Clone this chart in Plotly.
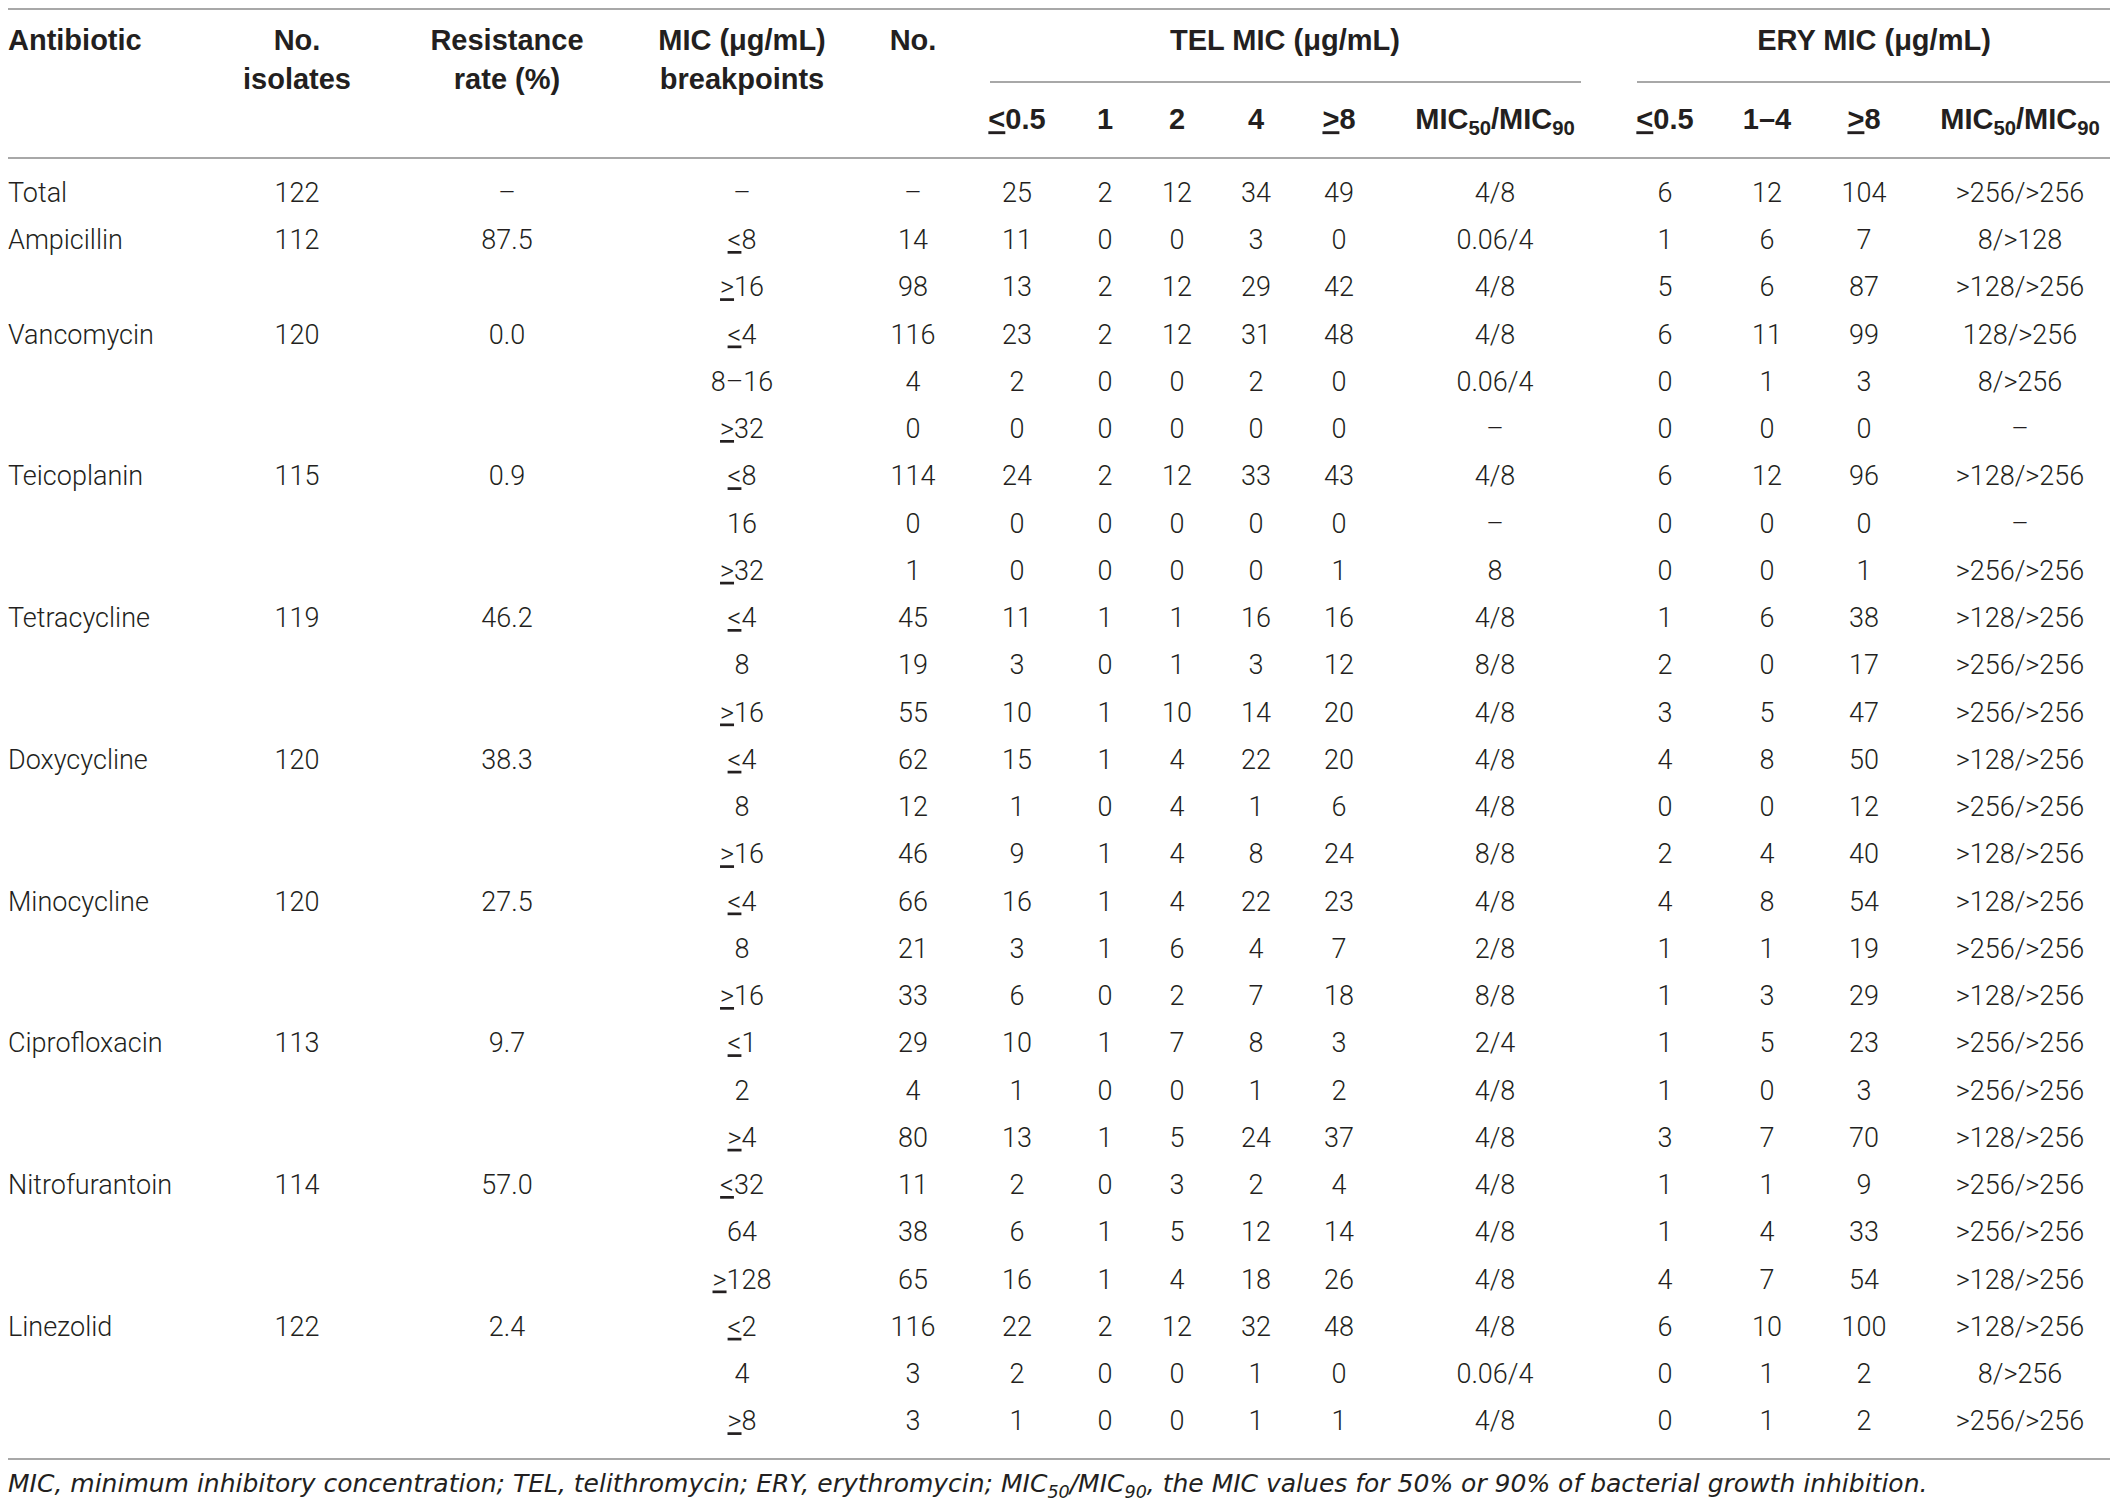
import plotly.graph_objects as go

# table rows (one entry per printed row)
antibiotic = ["Total", "Ampicillin", "", "Vancomycin", "", "", "Teicoplanin", "", "",
              "Tetracycline", "", "", "Doxycycline", "", "", "Minocycline", "", "",
              "Ciprofloxacin", "", "", "Nitrofurantoin", "", "", "Linezolid", "", ""]
isolates = ["122", "112", "", "120", "", "", "115", "", "", "119", "", "", "120", "", "",
            "120", "", "", "113", "", "", "114", "", "", "122", "", ""]
res_rate = ["–", "87.5", "", "0.0", "", "", "0.9", "", "", "46.2", "", "", "38.3", "", "",
            "27.5", "", "", "9.7", "", "", "57.0", "", "", "2.4", "", ""]
breakpoints = ["–", "≤8", "≥16", "≤4", "8–16", "≥32", "≤8", "16", "≥32", "≤4", "8", "≥16",
               "≤4", "8", "≥16", "≤4", "8", "≥16", "≤1", "2", "≥4", "≤32", "64", "≥128",
               "≤2", "4", "≥8"]
n_no = ["–", "14", "98", "116", "4", "0", "114", "0", "1", "45", "19", "55", "62", "12", "46",
        "66", "21", "33", "29", "4", "80", "11", "38", "65", "116", "3", "3"]
tel_le05 = [25, 11, 13, 23, 2, 0, 24, 0, 0, 11, 3, 10, 15, 1, 9, 16, 3, 6, 10, 1, 13, 2, 6, 16, 22, 2, 1]
tel_1 = [2, 0, 2, 2, 0, 0, 2, 0, 0, 1, 0, 1, 1, 0, 1, 1, 1, 0, 1, 0, 1, 0, 1, 1, 2, 0, 0]
tel_2 = [12, 0, 12, 12, 0, 0, 12, 0, 0, 1, 1, 10, 4, 4, 4, 4, 6, 2, 7, 0, 5, 3, 5, 4, 12, 0, 0]
tel_4 = [34, 3, 29, 31, 2, 0, 33, 0, 0, 16, 3, 14, 22, 1, 8, 22, 4, 7, 8, 1, 24, 2, 12, 18, 32, 1, 1]
tel_ge8 = [49, 0, 42, 48, 0, 0, 43, 0, 1, 16, 12, 20, 20, 6, 24, 23, 7, 18, 3, 2, 37, 4, 14, 26, 48, 0, 1]
tel_mic = ["4/8", "0.06/4", "4/8", "4/8", "0.06/4", "–", "4/8", "–", "8", "4/8", "8/8", "4/8",
           "4/8", "4/8", "8/8", "4/8", "2/8", "8/8", "2/4", "4/8", "4/8", "4/8", "4/8", "4/8",
           "4/8", "0.06/4", "4/8"]
ery_le05 = [6, 1, 5, 6, 0, 0, 6, 0, 0, 1, 2, 3, 4, 0, 2, 4, 1, 1, 1, 1, 3, 1, 1, 4, 6, 0, 0]
ery_1_4 = [12, 6, 6, 11, 1, 0, 12, 0, 0, 6, 0, 5, 8, 0, 4, 8, 1, 3, 5, 0, 7, 1, 4, 7, 10, 1, 1]
ery_ge8 = [104, 7, 87, 99, 3, 0, 96, 0, 1, 38, 17, 47, 50, 12, 40, 54, 19, 29, 23, 3, 70, 9, 33, 54, 100, 2, 2]
ery_mic = [">256/>256", "8/>128", ">128/>256", "128/>256", "8/>256", "–", ">128/>256", "–",
           ">256/>256", ">128/>256", ">256/>256", ">256/>256", ">128/>256", ">256/>256",
           ">128/>256", ">128/>256", ">256/>256", ">128/>256", ">256/>256", ">256/>256",
           ">128/>256", ">256/>256", ">256/>256", ">128/>256", ">128/>256", "8/>256", ">256/>256"]

sub_headers = ["≤0.5", "1", "2", "4", "≥8", "MIC<sub>50</sub>/MIC<sub>90</sub>",
               "≤0.5", "1–4", "≥8", "MIC<sub>50</sub>/MIC<sub>90</sub>"]
footnote = ("MIC, minimum inhibitory concentration; TEL, telithromycin; ERY, erythromycin; "
            "MIC<sub>50</sub>/MIC<sub>90</sub>, the MIC values for 50% or 90% of bacterial growth inhibition.")

W, H = 2118, 1508
PAD = 8  # page body margin around the plot div
ROW0, PITCH = 195, 47.25
INK = "#231f20"
RULE = "#a8a8a8"
LEFT = PAD


def py(p):
    # pixel row -> row units on the y axis
    return (p - ROW0) / PITCH


def fmt(s):
    s = str(s)
    return s.replace("≤", "<u>&lt;</u>").replace("≥", "<u>&gt;</u>")


col_x = [297, 507, 742, 913, 1017, 1105, 1177, 1256, 1339, 1495, 1665, 1767, 1864, 2020]
columns = [isolates, res_rate, breakpoints, n_no, tel_le05, tel_1, tel_2, tel_4, tel_ge8,
           tel_mic, ery_le05, ery_1_4, ery_ge8, ery_mic]
rows = list(range(len(antibiotic)))

body = dict(family="Roboto", size=27, color=INK, weight=300)
head = dict(family="Liberation Sans", size=29, color=INK, weight=700)

fig = go.Figure()

# body text
ay = [r for r, a in zip(rows, antibiotic) if a]
at = [a for a in antibiotic if a]
fig.add_trace(go.Scatter(x=[LEFT] * len(ay), y=ay, mode="text", text=at,
                         textposition="middle right", textfont=body, cliponaxis=False))
bx, by, bt = [], [], []
for cx, col in zip(col_x, columns):
    for r, v in zip(rows, col):
        if v == "":
            continue
        bx.append(cx)
        by.append(r)
        bt.append(fmt(v))
fig.add_trace(go.Scatter(x=bx, y=by, mode="text", text=bt, textposition="middle center",
                         textfont=body, cliponaxis=False))

# headers
fig.add_trace(go.Scatter(x=[LEFT], y=[py(43)], mode="text", text=["Antibiotic"],
                         textposition="middle right", textfont=head, cliponaxis=False))
hx = [297, 507, 742, 913, 1285, 1874, 297, 507, 742]
hy = [py(43)] * 6 + [py(82)] * 3
ht = ["No.", "Resistance", "MIC (μg/mL)", "No.", "TEL MIC (μg/mL)", "ERY MIC (μg/mL)",
      "isolates", "rate (%)", "breakpoints"]
fig.add_trace(go.Scatter(x=hx, y=hy, mode="text", text=ht, textposition="middle center",
                         textfont=head, cliponaxis=False))
fig.add_trace(go.Scatter(x=col_x[4:], y=[py(122)] * len(sub_headers), mode="text",
                         text=[fmt(s) for s in sub_headers], textposition="middle center",
                         textfont=head, cliponaxis=False))

# footnote
fig.add_trace(go.Scatter(x=[LEFT], y=[py(1486)], mode="text", text=[footnote],
                         textposition="middle right",
                         textfont=dict(family="DejaVu Sans ExtraLight, DejaVu Sans", size=25,
                                       color=INK, weight=200, style="italic"),
                         cliponaxis=False))

# table rules
for x0, x1, yp in [(LEFT, 2114, PAD + 1), (990, 1581, 82), (1637, 2114, 82),
                   (LEFT, 2114, 158), (LEFT, 2114, 1459)]:
    fig.add_shape(type="line", x0=x0, x1=x1, y0=py(yp), y1=py(yp), xref="x", yref="y",
                  line=dict(color=RULE, width=2))

fig.update_layout(
    width=W - PAD, height=H - PAD, margin=dict(l=0, r=0, t=0, b=0),
    paper_bgcolor="white", plot_bgcolor="white", showlegend=False,
    xaxis=dict(range=[PAD, W], visible=False, fixedrange=True),
    yaxis=dict(range=[py(H), py(PAD)], visible=False, fixedrange=True),
)

fig.write_html("out.html")
